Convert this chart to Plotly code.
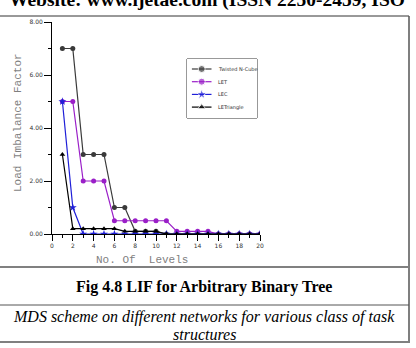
import plotly.graph_objects as go

levels = list(range(1, 21))
twisted = [7, 7, 3, 3, 3, 1, 1, 0.1, 0.1, 0.1, 0, 0, 0, 0, 0, 0, 0, 0, 0, 0]
let_vals = [5, 5, 2, 2, 2, 0.5, 0.5, 0.5, 0.5, 0.5, 0.5, 0.1, 0.1, 0.1, 0.1, 0, 0, 0, 0, 0]
lec_vals = [5, 1, 0, 0, 0, 0, 0, 0, 0, 0, 0, 0, 0, 0, 0, 0, 0, 0, 0, 0]
letri_vals = [3, 0.2, 0.2, 0.2, 0.2, 0.2, 0.1, 0.1, 0.1, 0.1, 0, 0, 0, 0, 0, 0, 0, 0, 0, 0]
series_names = ["Twisted N-Cube", "LET", "LEC", "LETriangle"]
x_ticks = list(range(0, 21, 2))
y_ticks = [0, 2, 4, 6, 8]
y_tick_labels = ["0.00", "2.00", "4.00", "6.00", "8.00"]

W, H = 416, 348
L, R, T, B = 52, 260, 22, 234


def px(x):
    return (x - L) / (R - L)


def py(y):
    return (B - y) / (B - T)


fig = go.Figure()
styles = [
    ("#3a3a3a", "circle", 5),
    ("#9a1fc8", "circle", 5),
    ("#1f1fd8", "star", 6),
    ("#000000", "triangle-up", 5),
]
all_vals = [twisted, let_vals, lec_vals, letri_vals]
for name, vals, (col, sym, sz) in zip(series_names, all_vals, styles):
    fig.add_trace(go.Scatter(
        x=levels, y=vals, name=name, mode="lines+markers",
        line=dict(color=col, width=1.2),
        marker=dict(symbol=sym, size=sz, color=col),
        showlegend=False,
    ))

# custom compact legend (box 187..257 x 59..118 px)
LX0, LX1, LY0, LY1 = 187, 257, 59, 118
annotations = []
for i, (name, (col, sym, sz)) in enumerate(zip(series_names, styles)):
    yy = 1 - (10 + 12.7 * i) / (LY1 - LY0)
    fig.add_trace(go.Scatter(
        x=[0.07, 0.21, 0.35], y=[yy, yy, yy], mode="lines+markers",
        line=dict(color=col, width=1.2),
        marker=dict(symbol=sym, size=[0, sz + 2, 0], color=col),
        xaxis="x2", yaxis="y2", showlegend=False, hoverinfo="skip",
    ))
    annotations.append(dict(
        text=name, xref="x2", yref="y2", x=0.42, y=yy, xanchor="left",
        yanchor="middle", showarrow=False,
        font=dict(family="DejaVu Sans", size=5, color="#333333")))

tick_font = dict(family="DejaVu Sans", size=6, color="#333333")
title_font = dict(family="Liberation Mono", size=11, color="#7f7f7f")

fig.update_xaxes(
    range=[0, 20], tickvals=x_ticks, showgrid=False, zeroline=False,
    showline=True, linecolor="black", linewidth=1,
    ticks="outside", ticklen=6, tickcolor="black", tickfont=tick_font,
    minor=dict(dtick=1, ticks="outside", ticklen=3, tickcolor="black"),
)
fig.update_yaxes(
    range=[0, 8], tickvals=y_ticks, ticktext=y_tick_labels, showgrid=False,
    zeroline=False, showline=True, linecolor="black", linewidth=1,
    ticks="outside", ticklen=7, tickcolor="black", tickfont=tick_font,
    minor=dict(dtick=1, ticks="outside", ticklen=3, tickcolor="black"),
)

shapes = [
    dict(type="line", xref="paper", yref="paper", x0=px(0), x1=px(409), y0=py(16), y1=py(16),
         line=dict(color="#333333", width=1)),
    dict(type="line", xref="paper", yref="paper", x0=px(409), x1=px(409), y0=py(16), y1=py(343),
         line=dict(color="#555555", width=1.5)),
    dict(type="line", xref="paper", yref="paper", x0=px(0), x1=px(409), y0=py(267), y1=py(267),
         line=dict(color="#808080", width=2)),
    dict(type="line", xref="paper", yref="paper", x0=px(0), x1=px(409), y0=py(305), y1=py(305),
         line=dict(color="#555555", width=1)),
    dict(type="line", xref="paper", yref="paper", x0=px(0), x1=px(409), y0=py(342), y1=py(342),
         line=dict(color="#808080", width=2)),
    dict(type="rect", xref="paper", yref="paper", x0=px(LX0), x1=px(LX1), y0=py(LY1), y1=py(LY0),
         line=dict(color="#333333", width=1), fillcolor="white", layer="below"),
]

serif = "Liberation Serif, Times New Roman, serif"
annotations += [
    dict(text="<b>Website: www.ijetae.com (ISSN 2250-2459, ISO</b>", xref="paper", yref="paper",
         x=px(7), y=py(13), xanchor="left", yanchor="bottom", showarrow=False,
         font=dict(family=serif, size=19.5, color="black")),
    dict(text="<b>Fig 4.8 LIF for Arbitrary Binary Tree</b>", xref="paper", yref="paper",
         x=px(204), y=py(287), xanchor="center", yanchor="middle", showarrow=False,
         font=dict(family=serif, size=16, color="black")),
    dict(text="<i>MDS scheme on different networks for various class of task</i>", xref="paper", yref="paper",
         x=px(204), y=py(317), xanchor="center", yanchor="middle", showarrow=False,
         font=dict(family=serif, size=16, color="black")),
    dict(text="<i>structures</i>", xref="paper", yref="paper",
         x=px(204), y=py(334), xanchor="center", yanchor="middle", showarrow=False,
         font=dict(family=serif, size=16, color="black")),
    dict(text="No. Of  Levels", xref="paper", yref="paper",
         x=px(142), y=py(260), xanchor="center", yanchor="middle", showarrow=False,
         font=title_font),
    dict(text="Load Imbalance Factor", xref="paper", yref="paper", textangle=-90,
         x=px(18), y=py(123), xanchor="center", yanchor="middle", showarrow=False,
         font=title_font),
]

fig.update_layout(
    width=W, height=H,
    margin=dict(l=L, r=W - R, t=T, b=H - B, pad=0),
    paper_bgcolor="white", plot_bgcolor="white",
    showlegend=False,
    xaxis2=dict(domain=[px(LX0), px(LX1)], range=[0, 1], anchor="y2",
                visible=False, fixedrange=True),
    yaxis2=dict(domain=[py(LY1), py(LY0)], range=[0, 1], anchor="x2",
                visible=False, fixedrange=True),
    shapes=shapes, annotations=annotations,
)

fig.write_html("out.html")
